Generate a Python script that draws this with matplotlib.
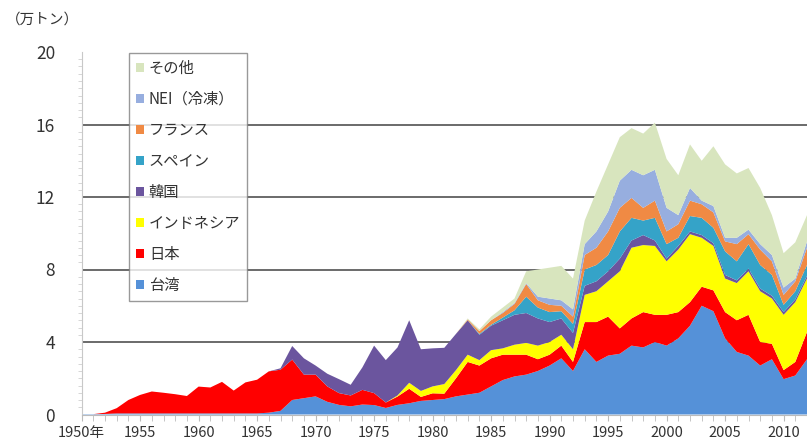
import matplotlib
matplotlib.use("Agg")
import matplotlib.pyplot as plt
from matplotlib.patches import Patch
from matplotlib.ticker import MultipleLocator
import numpy as np

plt.rcParams['font.family'] = ['Noto Sans CJK JP', 'DejaVu Sans']

years = list(range(1950, 2013))

taiwan = [0.02, 0.02, 0.03, 0.06, 0.06, 0.06, 0.06, 0.06, 0.06, 0.06,
          0.06, 0.06, 0.06, 0.06, 0.06, 0.06, 0.1, 0.2, 0.8, 0.9,
          1.0, 0.7, 0.53, 0.45, 0.55, 0.52, 0.36, 0.53, 0.62, 0.75,
          0.8, 0.85, 1.0, 1.1, 1.2, 1.55, 1.9, 2.1, 2.2, 2.4,
          2.7, 3.1, 2.4, 3.6, 2.9, 3.25, 3.35, 3.8, 3.7, 4.0,
          3.8, 4.2, 4.9, 6.0, 5.7, 4.2, 3.45, 3.25, 2.7, 3.05,
          1.95, 2.15, 3.05]
japan = [0, 0, 0.07, 0.29, 0.74, 1.02, 1.21, 1.14, 1.06, 0.96,
         1.48, 1.43, 1.74, 1.26, 1.71, 1.86, 2.28, 2.27, 2.23, 1.3,
         1.2, 0.85, 0.65, 0.6, 0.81, 0.66, 0.3, 0.46, 0.8, 0.22,
         0.37, 0.3, 1.0, 1.8, 1.5, 1.55, 1.4, 1.2, 1.1, 0.65,
         0.6, 0.7, 0.5, 1.5, 2.2, 2.15, 1.4, 1.5, 1.95, 1.5,
         1.7, 1.45, 1.3, 1.05, 1.15, 1.45, 1.75, 2.25, 1.3, 0.85,
         0.5, 0.75, 1.5]
indonesia = [0] * 27 + [0.06, 0.33, 0.33,
             0.38, 0.53, 0.45, 0.4, 0.3, 0.45, 0.35, 0.55, 0.65, 0.75,
             0.7, 0.6, 0.7, 1.5, 1.7, 1.95, 3.15, 3.9, 3.7, 3.8,
             2.95, 3.45, 3.75, 2.7, 2.45, 1.85, 2.05, 2.4, 2.8, 2.5,
             3.05, 3.3, 2.95]
korea = [0] * 17 + [0.08, 0.75, 0.9,
         0.5, 0.7, 0.77, 0.59, 1.24, 2.62, 2.34, 2.65, 3.45, 2.3,
         2.1, 2.0, 2.0, 1.9, 1.4, 1.35, 1.55, 1.65, 1.65, 1.5,
         1.1, 0.9, 0.9, 0.5, 0.55, 0.55, 0.7, 0.4, 0.55, 0.3,
         0.15, 0.2, 0.15, 0.15, 0.15, 0.2, 0.15, 0.15, 0.15, 0.15,
         0.15, 0.15, 0.15]
spain = [0] * 34 + [0.05, 0.05, 0.15, 0.25, 0.9, 0.6,
         0.55, 0.4, 0.5, 0.9, 0.9, 0.9, 1.5, 1.25, 0.8, 1.25,
         0.8, 0.45, 0.85, 0.95, 0.85, 1.3, 1.05, 1.35, 1.3, 1.15,
         0.4, 0.45, 0.6]
france = [0] * 33 + [0.05, 0.15, 0.25, 0.25, 0.35, 0.7, 0.4,
          0.4, 0.3, 0.4, 0.8, 0.95, 1.3, 1.3, 1.1, 0.7, 0.95,
          0.7, 0.75, 0.85, 0.75, 0.85, 0.55, 0.95, 0.55, 0.85, 0.75,
          0.55, 0.55, 0.95]
nei = [0] * 36 + [0.05, 0.05, 0.05, 0.2,
       0.35, 0.3, 0.4, 0.6, 0.9, 1.1, 1.5, 1.55, 1.8, 1.7,
       1.3, 0.5, 0.7, 0.2, 0.35, 0.2, 0.35, 0.25, 0.3, 0.35,
       0.4, 0.15, 0.35]
other = [0] * 33 + [0.05, 0.1, 0.2, 0.25, 0.25, 0.65, 1.5,
         1.7, 1.9, 1.7, 1.3, 2.2, 2.6, 2.4, 2.3, 2.3, 2.6,
         2.7, 2.2, 2.4, 2.2, 3.3, 4.05, 3.55, 3.4, 3.1, 2.2,
         1.9, 2.0, 1.45]

labels = ['台湾', '日本', 'インドネシア', '韓国', 'スペイン', 'フランス', 'NEI（冷凍）', 'その他']
colors = ['#5591D8', '#FF0000', '#FFFF00', '#6B559E', '#35A3C8', '#F08A44', '#97AEDF', '#D8E5BE']
series = [taiwan, japan, indonesia, korea, spain, france, nei, other]

fig = plt.figure(figsize=(8.07, 4.47), dpi=100)
ax = fig.add_axes([81.6 / 807, 32.5 / 447, (807 - 81.6) / 807, (414.5 - 52) / 447])

ax.stackplot(years, *series, colors=colors, labels=labels, linewidth=0)

ax.set_xlim(1950, 2012)
ax.set_ylim(0, 20)
for v in [4, 8, 12, 16]:
    ax.axhline(v, color='#6A6A6A', linewidth=1.4, zorder=0.5)
ax.set_axisbelow(True)

ax.set_yticks([0, 4, 8, 12, 16, 20])
ax.set_yticklabels(['0', '4', '8', '12', '16', '20'], fontsize=12.5, color='#333333')
ax.yaxis.set_minor_locator(MultipleLocator(0.4))
ax.tick_params(axis='y', which='major', length=0, pad=19)
ax.tick_params(axis='y', which='minor', length=3, color='#D0D0D0', direction='out')

xt = list(range(1950, 2013, 5))
ax.set_xticks(xt)
ax.set_xticklabels(['1950年'] + [str(y) for y in xt[1:]], fontsize=10.5, color='#333333')
ax.xaxis.set_minor_locator(MultipleLocator(1))
ax.tick_params(axis='x', which='both', length=4, color='#BBBBBB', direction='out', pad=4)

for s in ['top', 'right']:
    ax.spines[s].set_visible(False)
ax.spines['left'].set_color('#C8C8C8')
ax.spines['bottom'].set_color('#BBBBBB')

fig.text(6 / 807, 1 - 20 / 447, '（万トン）', fontsize=10.5, color='#333333', va='center', ha='left')

handles = [Patch(facecolor=c, edgecolor='none') for c in colors][::-1]
leg = ax.legend(handles, labels[::-1], loc='upper left',
                bbox_to_anchor=(129 / 807, 1 - 53 / 447), bbox_transform=fig.transFigure,
                fontsize=11, frameon=True, fancybox=False, handlelength=0.5, handleheight=0.5,
                handletextpad=0.35, labelspacing=0.92, borderpad=0.45, borderaxespad=0)
leg.get_frame().set_edgecolor('#808080')
leg.get_frame().set_linewidth(1.0)
for t in leg.get_texts():
    t.set_color('#333333')

fig.savefig('out.png', dpi=100)
